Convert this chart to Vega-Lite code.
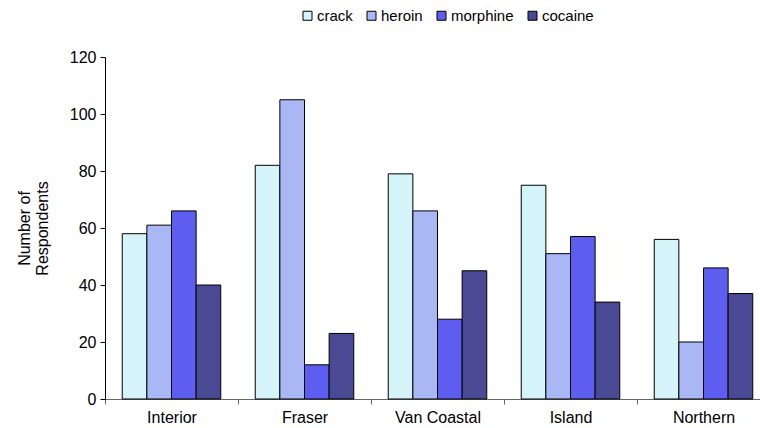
{
  "$schema": "https://vega.github.io/schema/vega-lite/v6.json",
  "width": 665,
  "height": 342,
  "autosize": {"type": "none"},
  "padding": {"left": 105, "top": 57, "right": 0, "bottom": 29},
  "background": "white",
  "config": {
    "view": {"stroke": null},
    "font": "Liberation Sans",
    "axis": {"labelFont": "Liberation Sans", "titleFont": "Liberation Sans", "labelColor": "#000", "titleColor": "#000"},
    "legend": {"labelFont": "Liberation Sans"}
  },
  "data": {
    "values": [
      {"region": "Interior", "drug": "crack", "n": 58},
      {"region": "Interior", "drug": "heroin", "n": 61},
      {"region": "Interior", "drug": "morphine", "n": 66},
      {"region": "Interior", "drug": "cocaine", "n": 40},
      {"region": "Fraser", "drug": "crack", "n": 82},
      {"region": "Fraser", "drug": "heroin", "n": 105},
      {"region": "Fraser", "drug": "morphine", "n": 12},
      {"region": "Fraser", "drug": "cocaine", "n": 23},
      {"region": "Van Coastal", "drug": "crack", "n": 79},
      {"region": "Van Coastal", "drug": "heroin", "n": 66},
      {"region": "Van Coastal", "drug": "morphine", "n": 28},
      {"region": "Van Coastal", "drug": "cocaine", "n": 45},
      {"region": "Island", "drug": "crack", "n": 75},
      {"region": "Island", "drug": "heroin", "n": 51},
      {"region": "Island", "drug": "morphine", "n": 57},
      {"region": "Island", "drug": "cocaine", "n": 34},
      {"region": "Northern", "drug": "crack", "n": 56},
      {"region": "Northern", "drug": "heroin", "n": 20},
      {"region": "Northern", "drug": "morphine", "n": 46},
      {"region": "Northern", "drug": "cocaine", "n": 37}
    ]
  },
  "mark": {"type": "bar", "stroke": "#000", "strokeWidth": 1},
  "encoding": {
    "x": {
      "field": "region",
      "type": "nominal",
      "sort": ["Interior", "Fraser", "Van Coastal", "Island", "Northern"],
      "scale": {"paddingInner": 0, "paddingOuter": 0},
      "axis": {
        "title": null,
        "labelAngle": 0,
        "labelFontSize": 16,
        "labelPadding": 5,
        "tickBand": "extent",
        "tickSize": 5,
        "tickColor": "#666",
        "domainColor": "#666",
        "grid": false
      }
    },
    "xOffset": {
      "field": "drug",
      "type": "nominal",
      "sort": ["crack", "heroin", "morphine", "cocaine"],
      "scale": {"paddingInner": 0, "paddingOuter": 0.7}
    },
    "y": {
      "field": "n",
      "type": "quantitative",
      "scale": {"domain": [0, 120], "nice": false},
      "axis": {
        "title": ["Number of", "Respondents"],
        "titleFontSize": 16,
        "titleFontWeight": "normal",
        "titlePadding": 19,
        "titleLineHeight": 18,
        "values": [0, 20, 40, 60, 80, 100, 120],
        "labelFontSize": 16,
        "labelPadding": 4,
        "tickSize": 5,
        "tickColor": "#000",
        "domainColor": "#000",
        "grid": false
      }
    },
    "fill": {
      "field": "drug",
      "type": "nominal",
      "sort": ["crack", "heroin", "morphine", "cocaine"],
      "scale": {
        "domain": ["crack", "heroin", "morphine", "cocaine"],
        "range": ["#d4f4fa", "#a9b7f5", "#5d5df0", "#4a4a94"]
      },
      "legend": {
        "title": null,
        "orient": "none",
        "direction": "horizontal",
        "legendX": 195,
        "legendY": -49,
        "symbolType": "square",
        "symbolSize": 81,
        "symbolStrokeColor": "#000",
        "symbolStrokeWidth": 1,
        "labelFontSize": 15,
        "labelOffset": 2,
        "columnPadding": 11
      }
    }
  }
}
